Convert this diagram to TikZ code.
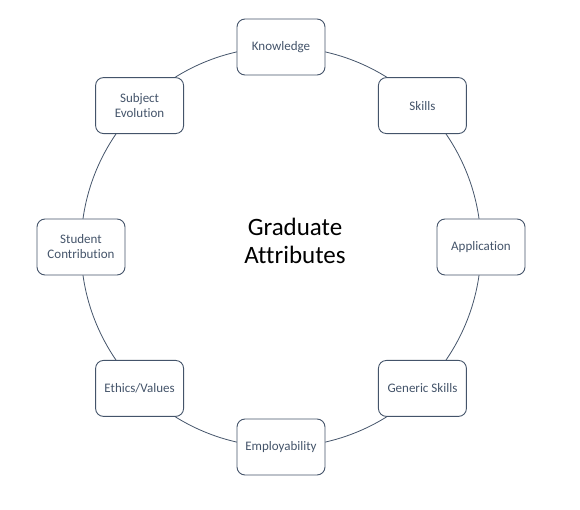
\documentclass[tikz,border=0pt]{standalone}
\usepackage{fontspec}
\setmainfont[Ligatures=NoCommon]{Carlito}
\definecolor{slate}{HTML}{44546A}
\begin{document}
\begin{tikzpicture}[
  x=1pt, y=-1pt,
  attr/.style={draw=slate, fill=white, line width=0.9pt, rounded corners=8pt,
    minimum width=88pt, minimum height=56pt, align=center,
    text=slate, font=\fontsize{13}{15}\selectfont},
  ring/.style={draw=slate, line width=0.8pt},
  title/.style={align=center, font=\fontsize{25}{28}\selectfont}
]
  \useasboundingbox (0,0) rectangle (580,510);
  % Centre and ring
  \coordinate (c) at (281,247);
  \draw[ring] (c) circle[radius=200];
  \node[title] (ga) at (295,241) {Graduate\\Attributes};

  % Attribute boxes round the ring
  \foreach \name/\ang/\txt in {
      know/90/Knowledge,
      skills/45/Skills,
      app/0/Application,
      generic/-45/Generic Skills,
      employ/-90/Employability,
      ethics/-135/{Ethics/Values},
      student/180/Student\\Contribution,
      subject/135/Subject\\Evolution}
    \node[attr] (\name) at ([shift={(\ang:200pt)}]c) {\txt};

\end{tikzpicture}
\end{document}
